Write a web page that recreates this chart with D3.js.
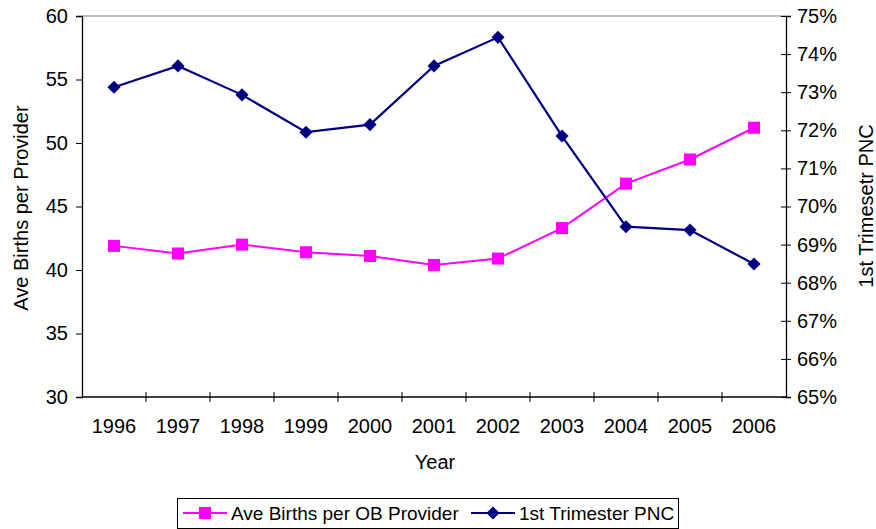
<!DOCTYPE html>
<html>
<head>
<meta charset="utf-8">
<script src="https://cdn.jsdelivr.net/npm/d3@7"></script>
<style>
  html, body { margin: 0; padding: 0; background: #fff; }
  svg { display: block; font-family: Arial, "Liberation Sans", sans-serif; }
</style>
</head>
<body>
<svg id="chart" width="876" height="529"></svg>
<script>
const years = ["1996","1997","1998","1999","2000","2001","2002","2003","2004","2005","2006"];
const aveBirths = [41.9, 41.3, 42.0, 41.4, 41.1, 40.4, 40.9, 43.3, 46.8, 48.7, 51.2];
const firstTriPNC = [0.7313, 0.7369, 0.7293, 0.7195, 0.7215, 0.7369, 0.7444, 0.7185, 0.6947, 0.6938, 0.6849];
const leftTicks = [30, 35, 40, 45, 50, 55, 60];
const rightTicks = [0.65, 0.66, 0.67, 0.68, 0.69, 0.70, 0.71, 0.72, 0.73, 0.74, 0.75];
const seriesNames = ["Ave Births per OB Provider", "1st Trimester PNC"];

const svg = d3.select("#chart");
const L = 82, R = 786, T = 16, B = 397;

const x = d3.scaleBand().domain(years).range([L, R]).padding(0);
const yL = d3.scaleLinear().domain([30, 60]).range([B, T]);
const yR = d3.scaleLinear().domain([0.65, 0.75]).range([B, T]);

// top border of plot area
svg.append("line").attr("x1", L).attr("x2", R).attr("y1", T).attr("y2", T)
  .attr("stroke", "#808080").attr("stroke-width", 1);

// left axis
const gL = svg.append("g").attr("transform", `translate(${L},0)`)
  .call(d3.axisLeft(yL).tickValues(leftTicks).tickSize(6).tickPadding(8).tickFormat(d3.format("d")));
// right axis
const gR = svg.append("g").attr("transform", `translate(${R},0)`)
  .call(d3.axisRight(yR).tickValues(rightTicks).tickSize(5).tickPadding(6).tickFormat(d3.format(".0%")));
gR.selectAll(".tick line").attr("x1", -5);
// bottom axis
const gB = svg.append("g").attr("transform", `translate(0,${B})`)
  .call(d3.axisBottom(x).tickSize(0).tickPadding(22));
// boundary ticks
const bounds = years.map(y => x(y)).slice(1);
gB.selectAll(".bnd").data(bounds).enter().append("line")
  .attr("x1", d => d).attr("x2", d => d).attr("y1", -5).attr("y2", 5)
  .attr("stroke", "#000");

[gL, gR, gB].forEach(g => {
  g.select(".domain").attr("stroke", "#000").attr("stroke-width", 1.3);
  g.selectAll(".tick line").attr("stroke", "#000");
  g.selectAll("text").attr("font-size", 20).attr("fill", "#000")
    .attr("font-family", "Arial, 'Liberation Sans', sans-serif");
});
gB.select(".domain").attr("d", `M${L},0H${R}`);

// axis titles
svg.append("text").attr("transform", `translate(28,208) rotate(-90)`)
  .attr("text-anchor", "middle").attr("font-size", 20).text("Ave Births per Provider");
svg.append("text").attr("transform", `translate(873,206) rotate(-90)`)
  .attr("text-anchor", "middle").attr("font-size", 20).text("1st Trimesetr PNC");
svg.append("text").attr("x", 435).attr("y", 469)
  .attr("text-anchor", "middle").attr("font-size", 20).text("Year");

const cx = d => x(d) + x.bandwidth() / 2;
const pink = "#FF00FF", navy = "#000080";

// pink series
const lineL = d3.line().x((d, i) => cx(years[i])).y(d => yL(d));
svg.append("path").datum(aveBirths).attr("d", lineL)
  .attr("fill", "none").attr("stroke", pink).attr("stroke-width", 2);
svg.selectAll(".sq").data(aveBirths).enter().append("rect")
  .attr("x", (d, i) => cx(years[i]) - 6).attr("y", d => yL(d) - 6)
  .attr("width", 12).attr("height", 12).attr("fill", pink);

// navy series
const lineR = d3.line().x((d, i) => cx(years[i])).y(d => yR(d));
svg.append("path").datum(firstTriPNC).attr("d", lineR)
  .attr("fill", "none").attr("stroke", navy).attr("stroke-width", 2.2);
const diamond = d3.symbol().type(d3.symbolDiamond2).size(110);
svg.selectAll(".dm").data(firstTriPNC).enter().append("path")
  .attr("d", diamond)
  .attr("transform", (d, i) => `translate(${cx(years[i])},${yR(d)}) rotate(0)`)
  .attr("fill", navy);

// legend
svg.append("rect").attr("x", 177.5).attr("y", 498.5).attr("width", 501).attr("height", 30)
  .attr("fill", "#fff").attr("stroke", "#000").attr("stroke-width", 1);
const lg = [
  { name: seriesNames[0], color: pink, x0: 183, tx: 231, shape: "sq" },
  { name: seriesNames[1], color: navy, x0: 471, tx: 519, shape: "dm" }
];
lg.forEach(it => {
  svg.append("line").attr("x1", it.x0).attr("x2", it.x0 + 44).attr("y1", 513).attr("y2", 513)
    .attr("stroke", it.color).attr("stroke-width", 2);
  if (it.shape === "sq") {
    svg.append("rect").attr("x", it.x0 + 22 - 6).attr("y", 513 - 6).attr("width", 12).attr("height", 12).attr("fill", it.color);
  } else {
    svg.append("path").attr("d", diamond).attr("transform", `translate(${it.x0 + 22},513)`).attr("fill", it.color);
  }
  svg.append("text").attr("x", it.tx).attr("y", 520).attr("font-size", 19).text(it.name);
});
</script>
</body>
</html>
